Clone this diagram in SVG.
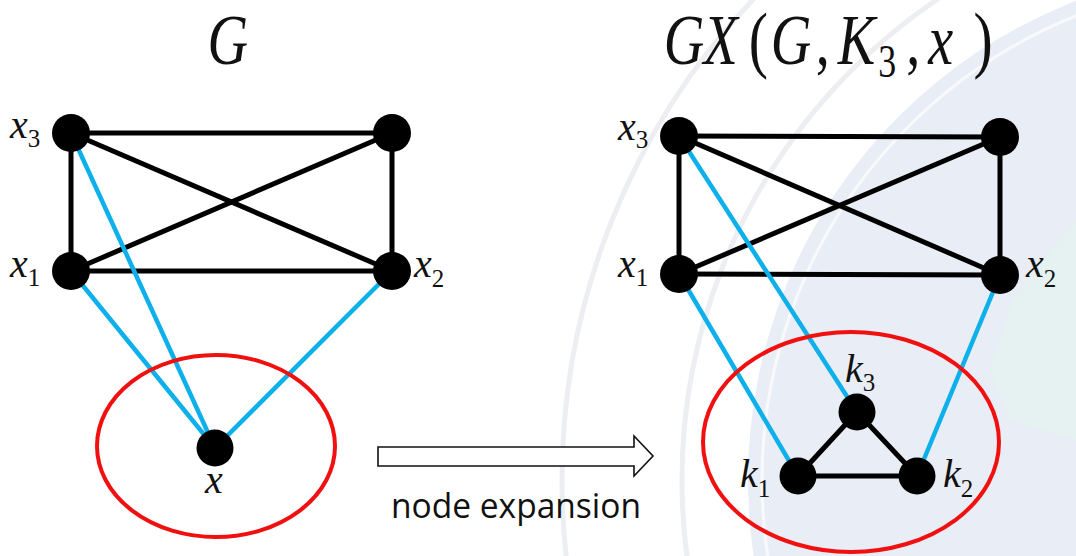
<svg xmlns="http://www.w3.org/2000/svg" width="1076" height="556" viewBox="0 0 1076 556">
  <style>
    .edge { stroke: #000; stroke-width: 5; stroke-linecap: round; fill: none; }
    .blue { stroke: #0db0ea; stroke-width: 4.5; stroke-linecap: round; fill: none; }
    .group { stroke: #f01010; stroke-width: 4; fill: none; }
    .node { fill: #000; }
    .math { font-family: "Liberation Serif", "Times New Roman", serif; font-style: italic; fill: #111; }
    .num { font-family: "Liberation Serif", "Times New Roman", serif; font-style: normal; fill: #111; }
    .lbl { font-size: 40px; }
    .sub { font-size: 25px; }
    .title { font-size: 72px; }
    .tsub { font-size: 46px; }
    .paren { font-size: 74px; }
    .caption { font-family: "Open Sans", "Liberation Sans", sans-serif; font-size: 35px; fill: #111; }
  </style>

  <g id="watermark">
    <rect x="0" y="0" width="1076" height="556" fill="#ffffff"/>
    <circle cx="1262" cy="480" r="700" fill="none" stroke="#eceef2" stroke-width="5"/>
    <circle cx="1262" cy="480" r="580" fill="none" stroke="#eceef2" stroke-width="5"/>
    <circle cx="1262" cy="480" r="514" fill="#e9edf5"/>
    <circle cx="1262" cy="480" r="500" fill="none" stroke="#f8f9fc" stroke-width="3"/>
    <path d="M1076,222 L1015,295 L990,370 L1010,420 L1076,440 Z" fill="#e6f2f1"/>
  </g>

  <g id="title-left">
    <text class="math title" transform="translate(0,64) scale(0.78,1)" x="266" y="0">G</text>
  </g>
  <g id="title-right">
    <text class="math title" transform="translate(0,64) scale(0.78,1)" y="0"><tspan x="851">G</tspan><tspan x="902">X</tspan><tspan class="num paren" x="960">(</tspan><tspan x="988">G</tspan><tspan class="num" x="1046">,</tspan><tspan x="1074">K</tspan><tspan class="num tsub" x="1126" y="13">3</tspan><tspan class="num" x="1162" y="0">,</tspan><tspan x="1190">x</tspan><tspan class="num paren" x="1248">)</tspan></text>
  </g>

  <g id="connectors">
    <!-- left graph -->
    <line class="edge" x1="71" y1="133" x2="392" y2="133"/>
    <line class="edge" x1="71" y1="271" x2="392" y2="271"/>
    <line class="edge" x1="71" y1="133" x2="71" y2="271"/>
    <line class="edge" x1="392" y1="133" x2="392" y2="271"/>
    <line class="edge" x1="71" y1="133" x2="392" y2="271"/>
    <line class="edge" x1="71" y1="271" x2="392" y2="133"/>
    <line class="blue" x1="71" y1="271" x2="215" y2="448"/>
    <line class="blue" x1="71" y1="133" x2="215" y2="448"/>
    <line class="blue" x1="392" y1="271" x2="215" y2="448"/>
    <!-- right graph -->
    <line class="edge" x1="679" y1="136" x2="1000" y2="137"/>
    <line class="edge" x1="679" y1="274" x2="1000" y2="275"/>
    <line class="edge" x1="679" y1="136" x2="679" y2="274"/>
    <line class="edge" x1="1000" y1="137" x2="1000" y2="275"/>
    <line class="edge" x1="679" y1="136" x2="1000" y2="275"/>
    <line class="edge" x1="679" y1="274" x2="1000" y2="137"/>
    <line class="blue" x1="679" y1="274" x2="798" y2="476"/>
    <line class="blue" x1="679" y1="136" x2="857" y2="412"/>
    <line class="blue" x1="1000" y1="275" x2="917" y2="476"/>
    <line class="edge" x1="857" y1="412" x2="798" y2="476"/>
    <line class="edge" x1="857" y1="412" x2="917" y2="476"/>
    <line class="edge" x1="798" y1="476" x2="917" y2="476"/>
    <!-- expansion arrow -->
    <path d="M378,447 L634,447 L634,436 L653,456 L634,476 L634,466 L378,466 Z" fill="#fff" stroke="#111" stroke-width="1.6" stroke-linejoin="miter"/>
  </g>

  <g id="ellipse-left"><ellipse class="group" cx="216" cy="446" rx="119" ry="91"/></g>
  <g id="ellipse-right"><ellipse class="group" cx="851" cy="442" rx="148" ry="110"/></g>

  <g id="node-x3"><circle class="node" cx="71" cy="133" r="19"/>
    <text class="math lbl" x="10" y="138">x<tspan class="num sub" y="147">3</tspan></text></g>
  <g id="node-x4"><circle class="node" cx="392" cy="133" r="19"/></g>
  <g id="node-x1"><circle class="node" cx="71" cy="271" r="19"/>
    <text class="math lbl" x="10" y="277">x<tspan class="num sub" y="286">1</tspan></text></g>
  <g id="node-x2"><circle class="node" cx="392" cy="271" r="19"/>
    <text class="math lbl" x="414" y="277">x<tspan class="num sub" y="287">2</tspan></text></g>
  <g id="node-x"><circle class="node" cx="215" cy="448" r="18.5"/>
    <text class="math lbl" x="205" y="493">x</text></g>

  <g id="node-gx3"><circle class="node" cx="679" cy="136" r="19"/>
    <text class="math lbl" x="618" y="140">x<tspan class="num sub" y="148">3</tspan></text></g>
  <g id="node-gx4"><circle class="node" cx="1000" cy="137" r="19"/></g>
  <g id="node-gx1"><circle class="node" cx="679" cy="274" r="19"/>
    <text class="math lbl" x="618" y="277">x<tspan class="num sub" y="286">1</tspan></text></g>
  <g id="node-gx2"><circle class="node" cx="1000" cy="275" r="19"/>
    <text class="math lbl" x="1026" y="277">x<tspan class="num sub" y="287">2</tspan></text></g>
  <g id="node-k3"><circle class="node" cx="857" cy="412" r="18.5"/>
    <text class="math lbl" x="845" y="382">k<tspan class="num sub" y="391">3</tspan></text></g>
  <g id="node-k1"><circle class="node" cx="798" cy="476" r="18.5"/>
    <text class="math lbl" x="740" y="487">k<tspan class="num sub" y="497">1</tspan></text></g>
  <g id="node-k2"><circle class="node" cx="917" cy="476" r="18.5"/>
    <text class="math lbl" x="943" y="487">k<tspan class="num sub" y="497">2</tspan></text></g>

  <g id="caption">
    <text class="caption" x="391" y="518" textLength="250" lengthAdjust="spacingAndGlyphs">node expansion</text>
  </g>
</svg>
